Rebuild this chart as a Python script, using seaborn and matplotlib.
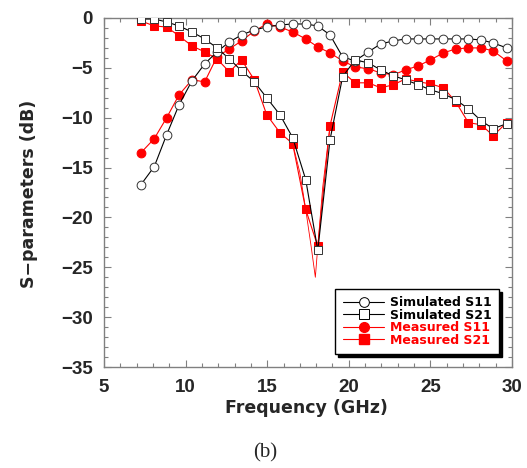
import numpy as np
import pandas as pd
import matplotlib
matplotlib.use("Agg")
import matplotlib.pyplot as plt
import seaborn as sns
from matplotlib.ticker import MultipleLocator
from matplotlib.lines import Line2D

freq = [7.27, 8.08, 8.84, 9.60, 10.39, 11.17, 11.92, 12.68, 13.43, 14.21, 14.97, 15.78,
        16.56, 17.36, 18.10, 18.85, 19.62, 20.38, 21.20, 21.95, 22.73, 23.48, 24.26,
        25.00, 25.80, 26.55, 27.33, 28.10, 28.85, 29.67]

sim_s11 = [-16.7, -14.9, -11.7, -8.7, -6.3, -4.6, -3.4, -2.4, -1.7, -1.2, -0.9, -0.7,
           -0.6, -0.6, -0.8, -1.7, -3.9, -4.3, -3.4, -2.6, -2.3, -2.1, -2.1,
           -2.1, -2.1, -2.1, -2.1, -2.2, -2.5, -3.0]
sim_s21 = [-0.1, -0.1, -0.4, -0.8, -1.4, -2.1, -3.0, -4.1, -5.3, -6.4, -8.0, -9.7,
           -12.0, -16.2, -23.3, -12.2, -5.9, -4.2, -4.5, -5.2, -5.8, -6.2, -6.7,
           -7.2, -7.6, -8.2, -9.1, -10.3, -11.1, -10.6]
meas_s11 = [-13.5, -12.1, -10.0, -7.7, -6.2, -6.4, -3.9, -3.1, -2.3, -1.3, -0.6, -0.9,
            -1.4, -2.1, -2.9, -3.5, -4.3, -4.9, -5.1, -5.5, -5.7, -5.2, -4.8,
            -4.2, -3.5, -3.1, -3.0, -3.0, -3.3, -4.3]
meas_s21 = [-0.3, -0.8, -0.9, -1.8, -2.8, -3.4, -4.1, -5.4, -4.2, -6.2, -9.7, -11.5,
            -12.6, -19.2, -22.9, -10.8, -5.4, -6.5, -6.5, -7.0, -6.7, -6.1, -6.4,
            -6.6, -7.0, -8.4, -10.5, -10.7, -11.8, -10.5]

# thin measured S21 trace read around the resonance dip
trace_freq = [16.56, 17.0, 17.36, 17.7, 17.95, 18.10, 18.4, 18.85]
trace_s21 = [-12.6, -15.5, -19.2, -23.0, -26.0, -22.9, -17.0, -10.8]

xticks = [5, 10, 15, 20, 25, 30]
yticks = [0, -5, -10, -15, -20, -25, -30, -35]
labels = ["Simulated S11", "Simulated S21", "Measured S11", "Measured S21"]

sns.set_style("ticks")
plt.rcParams['font.family'] = ['Liberation Sans', 'DejaVu Sans']
plt.rcParams['font.weight'] = 'bold'

fig = plt.figure(figsize=(5.27, 4.68), dpi=100)
ax = fig.add_axes([104/527, 1-367/468, 408/527, 349/468])

df = pd.DataFrame({"f": freq, "ss11": sim_s11, "ss21": sim_s21,
                   "ms11": meas_s11, "ms21": meas_s21})
dft = pd.DataFrame({"f": trace_freq, "v": trace_s21})

red = "#ff0000"
edge = "#333333"
sns.lineplot(data=dft, x="f", y="v", ax=ax, color=red, lw=0.6, zorder=2)
sns.lineplot(data=df, x="f", y="ms21", ax=ax, color=red, lw=0.8, marker="s",
             markersize=6.3, markerfacecolor=red, markeredgecolor=red, zorder=3)
sns.lineplot(data=df, x="f", y="ms11", ax=ax, color=red, lw=0.8, marker="o",
             markersize=6.3, markerfacecolor=red, markeredgecolor=red, zorder=3)
sns.lineplot(data=df, x="f", y="ss11", ax=ax, color="black", lw=0.8, marker="o",
             markersize=6.3, markerfacecolor="white", markeredgecolor=edge,
             markeredgewidth=0.7, zorder=4)
sns.lineplot(data=df, x="f", y="ss21", ax=ax, color="black", lw=0.8, marker="s",
             markersize=6.3, markerfacecolor="white", markeredgecolor=edge,
             markeredgewidth=0.7, zorder=4)

ax.set_xlim(5, 30)
ax.set_ylim(-35, 0)
ax.set_xticks(xticks)
ax.set_yticks(yticks)
ax.xaxis.set_minor_locator(MultipleLocator(1))
ax.yaxis.set_minor_locator(MultipleLocator(1))
ax.set_xticklabels([str(t) for t in xticks])
ax.set_yticklabels([("\u2212" + str(-t)) if t < 0 else str(t) for t in yticks])
ax.tick_params(which="both", direction="in", top=True, right=True, color="#808080",
               width=0.8)
ax.tick_params(which="major", length=5, labelsize=13.5)
ax.tick_params(axis="x", which="major", pad=9)
ax.tick_params(axis="y", which="major", pad=8)
ax.tick_params(which="minor", length=3)
for s in ax.spines.values():
    s.set_color("#808080")
    s.set_linewidth(1.0)
for lab in ax.get_xticklabels() + ax.get_yticklabels():
    lab.set_fontweight("bold")

lab_font = {"family": ["DejaVu Sans"], "weight": "bold", "size": 12.5}
ax.set_xlabel("Frequency (GHz)", fontdict=lab_font)
ax.set_ylabel("S\u2212parameters (dB)", fontdict=lab_font)
ax.xaxis.set_label_coords((306.5-104)/408, -(399-367)/349)
ax.yaxis.set_label_coords((38-104)/408, 0.497)

handles = [
    Line2D([], [], color="black", lw=0.8, marker="o", markersize=7,
           markerfacecolor="white", markeredgecolor="black", markeredgewidth=0.7),
    Line2D([], [], color="black", lw=0.8, marker="s", markersize=7,
           markerfacecolor="white", markeredgecolor="black", markeredgewidth=0.7),
    Line2D([], [], color=red, lw=0.8, marker="o", markersize=7,
           markerfacecolor=red, markeredgecolor=red),
    Line2D([], [], color=red, lw=0.8, marker="s", markersize=6.5,
           markerfacecolor=red, markeredgecolor=red),
]
leg = ax.legend(handles, labels, loc="lower right",
                bbox_to_anchor=(499/527, 1-354/468), bbox_transform=fig.transFigure,
                borderaxespad=0, frameon=True, fancybox=False,
                shadow={"color": "black", "alpha": 1},
                handlelength=3.3, handletextpad=0.45,
                labelspacing=-0.05, borderpad=0.6, edgecolor="black",
                prop={"family": ["DejaVu Sans"], "weight": "bold", "size": 9})
leg.get_frame().set_linewidth(1.0)
for t, c in zip(leg.get_texts(), ["black", "black", red, red]):
    t.set_color(c)

fig.text(265/527, 1-453/468, "(b)", ha="center", va="center", fontsize=15,
         family=["Liberation Serif", "DejaVu Serif"], fontweight="normal")

fig.savefig("out.png", dpi=100, facecolor="white")
